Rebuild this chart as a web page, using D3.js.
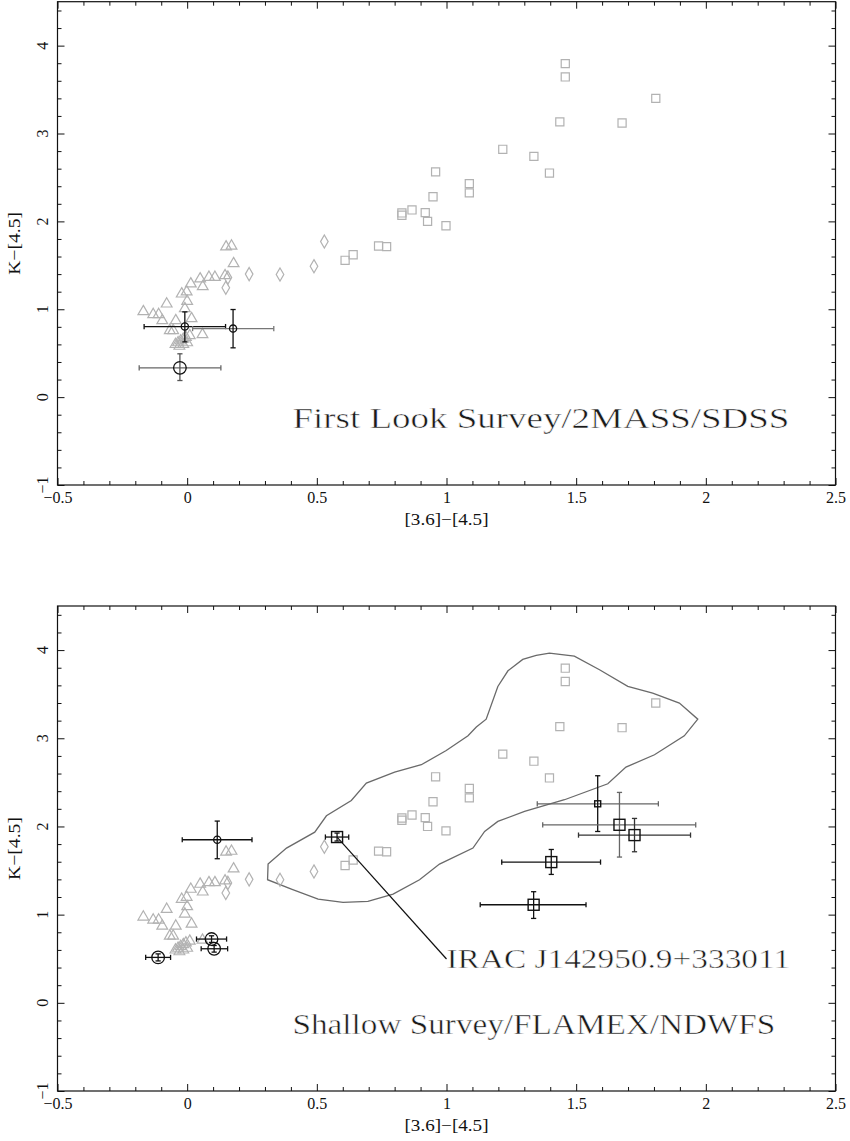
<!DOCTYPE html>
<html><head><meta charset="utf-8">
<script src="https://cdn.jsdelivr.net/npm/d3@7"></script>
<style>body{margin:0;background:#fff}</style>
</head><body>
<svg id="c" width="850" height="1141" xmlns="http://www.w3.org/2000/svg"></svg>
<script>
// ---------- DATA ----------
const xMajorTicks = [-0.5, 0, 0.5, 1, 1.5, 2, 2.5];
const yMajorTicks = [-1, 0, 1, 2, 3, 4];
const xTitle = "[3.6]\u2212[4.5]";
const yTitle = "K\u2212[4.5]";
const panelLabels = ["First Look Survey/2MASS/SDSS", "Shallow Survey/FLAMEX/NDWFS"];

// grey comparison stars (same in both panels)
const triX = [0.150,0.171,0.179,0.050,0.084,0.107,0.146,0.060,0.014,-0.002,-0.021,0.000,-0.079,-0.169,-0.131,-0.110,-0.009,-0.096,-0.044,0.017,-0.067,-0.054,0.059,-0.045,-0.035,-0.025,-0.015,-0.030,-0.015,0.000,-0.005,0.010];
const triY = [1.71,1.72,1.52,1.346,1.364,1.364,1.383,1.258,1.289,1.198,1.175,1.091,1.061,0.974,0.94,0.94,1.008,0.871,0.871,0.894,0.758,0.758,0.712,0.60,0.62,0.64,0.66,0.58,0.60,0.62,0.68,0.70];
const diaX = [0.529,0.489,0.358,0.239,0.157,0.149];
const diaY = [1.77,1.49,1.395,1.40,1.36,1.245];
const sqX = [1.458,1.458,1.807,1.437,1.677,1.217,1.337,1.397,0.958,1.088,1.088,0.948,0.828,0.828,0.867,0.918,0.927,0.998,0.738,0.769,0.640,0.609];
const sqY = [3.795,3.644,3.40,3.132,3.12,2.82,2.74,2.55,2.563,2.43,2.324,2.28,2.096,2.07,2.13,2.10,2.00,1.95,1.72,1.713,1.62,1.557];

// top panel black points (circles)
const flsX   = [-0.009, 0.177, -0.028];
const flsY   = [0.803, 0.780, 0.333];
const flsXlo = [-0.166, 0.021, -0.185];
const flsXhi = [0.148, 0.334, 0.130];
const flsYlo = [0.629, 0.561, 0.189];
const flsYhi = [0.970, 0.997, 0.493];
const flsKind = ["circle-s","circle-s","circle-l"];

// bottom panel black points
const ssX   = [0.116, 0.094, 0.104, -0.112, 0.578, 1.583, 1.667, 1.725, 1.404, 1.336];
const ssY   = [1.849, 0.723, 0.613, 0.515, 1.880, 2.257, 2.019, 1.902, 1.596, 1.112];
const ssXlo = [-0.019, 0.036, 0.054, -0.160, 0.533, 1.350, 1.371, 1.509, 1.213, 1.130];
const ssXhi = [0.250, 0.152, 0.156, -0.064, 0.623, 1.817, 1.961, 1.941, 1.594, 1.538];
const ssYlo = [1.634, 0.685, 0.575, 0.475, 1.835, 1.943, 1.653, 1.713, 1.456, 0.957];
const ssYhi = [2.061, 0.760, 0.650, 0.555, 1.925, 2.575, 2.386, 2.091, 1.739, 1.260];
const ssKind = ["circle-s","circle-l","circle-l","circle-l","square-l","square-s","square-l","square-l","square-l","square-l"];

// contour (bottom panel)
const contourX = [0.312,0.383,0.492,0.537,0.633,0.691,0.800,0.903,0.999,1.083,1.115,1.153,1.198,1.237,1.294,1.346,1.397,1.493,1.590,1.699,1.795,1.898,1.969,1.917,1.802,1.692,1.622,1.455,1.301,1.198,1.147,1.102,0.973,0.896,0.794,0.697,0.601,0.505,0.402,0.310];
const contourY = [1.573,1.755,1.935,2.121,2.295,2.492,2.616,2.700,2.862,3.028,3.127,3.217,3.588,3.765,3.894,3.939,3.966,3.932,3.777,3.588,3.512,3.399,3.217,3.028,2.813,2.673,2.484,2.303,2.170,2.057,1.944,1.755,1.573,1.396,1.233,1.150,1.139,1.177,1.290,1.396];

// annotation
const iracLabel = "IRAC J142950.9+333011";
const leaderX = [0.578, 1.0];
const leaderY = [1.880, 0.497];
const iracLabelPos = [1.0, 0.40];
const iracLabelEnd = 2.325;
const panelLabelPos = [0.406, -0.357];
const panelLabelEnd = 2.322;

// ---------- STYLE / LAYOUT ----------
const svg = d3.select("#c");
const left = 57.5, right = 835.5;
const grey = "#b2b2b2";
const errStyleTop = [["#111","#111"],["#777","#111"],["#666","#555"]]; // [xbar,ybar]
const errStyleBot = [["#111","#111"],["#111","#111"],["#111","#111"],["#111","#111"],["#111","#111"],["#666","#111"],["#666","#666"],["#333","#333"],["#111","#111"],["#111","#111"]];
const fmt = d => (d < 0 ? "\u2212" + Math.abs(d) : String(d));
const serif = "Liberation Serif, DejaVu Serif, serif";

const panels = [
  {top: 1.7, bottom: 485, label: panelLabels[0],
   pts: {x: flsX, y: flsY, xlo: flsXlo, xhi: flsXhi, ylo: flsYlo, yhi: flsYhi, kind: flsKind, col: errStyleTop}},
  {top: 606, bottom: 1091, label: panelLabels[1], contour: true,
   pts: {x: ssX, y: ssY, xlo: ssXlo, xhi: ssXhi, ylo: ssYlo, yhi: ssYhi, kind: ssKind, col: errStyleBot}}
];

const xMinor = d3.range(-5, 26).map(i => i / 10).filter(v => !xMajorTicks.some(m => Math.abs(m - v) < 1e-9));
const yMinor = d3.range(-5, 23).map(i => i / 5).filter(v => !yMajorTicks.some(m => Math.abs(m - v) < 1e-9));

panels.forEach((P, pi) => {
  const x = d3.scaleLinear().domain([-0.5, 2.5]).range([left, right]);
  const y = d3.scaleLinear().domain([-1, 4.5]).range([P.bottom, P.top]);
  const g = svg.append("g");

  if (P.contour) {
    g.append("path")
      .datum(contourX.map((v, i) => [v, contourY[i]]))
      .attr("d", d3.line().x(d => x(d[0])).y(d => y(d[1])).curve(d3.curveLinearClosed))
      .attr("fill", "none").attr("stroke", "#6a6a6a").attr("stroke-width", 1.3);
  }

  const gm = g.append("g").attr("fill", "none").attr("stroke", grey).attr("stroke-width", 1.2);
  const tri = d3.symbol(d3.symbolTriangle, 50);
  const sq = d3.symbol(d3.symbolSquare, 66);
  const dia = d3.symbol(d3.symbolDiamond, 50);
  gm.selectAll(".tri").data(triX.map((v, i) => [v, triY[i]])).join("path")
    .attr("class", "tri")
    .attr("transform", d => `translate(${x(d[0])},${y(d[1])})`).attr("d", tri);
  gm.selectAll(".dia").data(diaX.map((v, i) => [v, diaY[i]])).join("path")
    .attr("class", "dia")
    .attr("transform", d => `translate(${x(d[0])},${y(d[1])})`).attr("d", dia);
  gm.selectAll(".sq").data(sqX.map((v, i) => [v, sqY[i]])).join("path")
    .attr("class", "sq")
    .attr("transform", d => `translate(${x(d[0])},${y(d[1])})`).attr("d", sq);

  if (P.contour) {
    g.append("line")
      .attr("x1", x(leaderX[0])).attr("y1", y(leaderY[0]))
      .attr("x2", x(leaderX[1])).attr("y2", y(leaderY[1]))
      .attr("stroke", "#111").attr("stroke-width", 1.2);
    g.append("text").attr("x", x(iracLabelPos[0])).attr("y", y(iracLabelPos[1]))
      .attr("font-family", serif).attr("font-size", 27).attr("fill", "#1a1a1a")
      .attr("stroke", "#fff").attr("stroke-width", 0.5)
      .attr("textLength", x(iracLabelEnd) - x(iracLabelPos[0])).attr("lengthAdjust", "spacingAndGlyphs")
      .text(iracLabel);
  }

  const p = P.pts;
  const cap = 2.6;
  p.x.forEach((xv, i) => {
    const cx = x(xv), cy = y(p.y[i]);
    const eg = g.append("g").attr("fill", "none").attr("stroke-width", 1.3);
    const xc = p.col[i][0], yc = p.col[i][1];
    const x1 = x(p.xlo[i]), x2 = x(p.xhi[i]), y1 = y(p.ylo[i]), y2 = y(p.yhi[i]);
    eg.append("line").attr("x1", x1).attr("x2", x2).attr("y1", cy).attr("y2", cy).attr("stroke", xc);
    eg.append("line").attr("x1", x1).attr("x2", x1).attr("y1", cy - cap).attr("y2", cy + cap).attr("stroke", xc);
    eg.append("line").attr("x1", x2).attr("x2", x2).attr("y1", cy - cap).attr("y2", cy + cap).attr("stroke", xc);
    eg.append("line").attr("x1", cx).attr("x2", cx).attr("y1", y1).attr("y2", y2).attr("stroke", yc);
    eg.append("line").attr("x1", cx - cap).attr("x2", cx + cap).attr("y1", y1).attr("y2", y1).attr("stroke", yc);
    eg.append("line").attr("x1", cx - cap).attr("x2", cx + cap).attr("y1", y2).attr("y2", y2).attr("stroke", yc);
    const k = p.kind[i];
    if (k.startsWith("circle")) {
      eg.append("circle").attr("cx", cx).attr("cy", cy).attr("r", k === "circle-s" ? 3.6 : 6.3)
        .attr("stroke", "#111").attr("stroke-width", 1.3);
    } else {
      const s = k === "square-s" ? 6 : 11;
      eg.append("rect").attr("x", cx - s / 2).attr("y", cy - s / 2).attr("width", s).attr("height", s)
        .attr("stroke", "#111").attr("stroke-width", 1.4);
    }
  });

  g.append("text").attr("x", x(panelLabelPos[0])).attr("y", y(panelLabelPos[1]))
    .attr("font-family", serif).attr("font-size", 29).attr("fill", "#1a1a1a")
    .attr("stroke", "#fff").attr("stroke-width", 0.5)
    .attr("textLength", x(panelLabelEnd) - x(panelLabelPos[0]) - (pi === 1 ? 14 : 0)).attr("lengthAdjust", "spacingAndGlyphs")
    .text(P.label);

  const styleAxis = sel => {
    sel.select(".domain").remove();
    sel.selectAll("line").attr("stroke", "#111").attr("stroke-width", 1);
    sel.selectAll("text").attr("font-family", serif).attr("font-size", 16).attr("fill", "#111");
  };
  g.append("g").attr("transform", `translate(0,${P.bottom})`)
    .call(d3.axisBottom(x).tickValues(xMajorTicks).tickSizeInner(-7).tickSizeOuter(0).tickPadding(7).tickFormat(fmt)).call(styleAxis);
  g.append("g").attr("transform", `translate(0,${P.bottom})`)
    .call(d3.axisBottom(x).tickValues(xMinor).tickSize(-4).tickFormat("")).call(styleAxis);
  g.append("g").attr("transform", `translate(0,${P.top})`)
    .call(d3.axisTop(x).tickValues(xMajorTicks).tickSize(-7).tickFormat("")).call(styleAxis);
  g.append("g").attr("transform", `translate(0,${P.top})`)
    .call(d3.axisTop(x).tickValues(xMinor).tickSize(-4).tickFormat("")).call(styleAxis);
  g.append("g").attr("transform", `translate(${left},0)`)
    .call(d3.axisLeft(y).tickValues(yMajorTicks).tickSize(-7).tickFormat("")).call(styleAxis);
  g.append("g").attr("transform", `translate(${left},0)`)
    .call(d3.axisLeft(y).tickValues(yMinor).tickSize(-4).tickFormat("")).call(styleAxis);
  g.append("g").attr("transform", `translate(${right},0)`)
    .call(d3.axisRight(y).tickValues(yMajorTicks).tickSize(-7).tickFormat("")).call(styleAxis);
  g.append("g").attr("transform", `translate(${right},0)`)
    .call(d3.axisRight(y).tickValues(yMinor).tickSize(-4).tickFormat("")).call(styleAxis);

  g.selectAll(".ylab").data(yMajorTicks).join("text")
    .attr("class", "ylab")
    .attr("transform", d => `translate(48,${y(d)}) rotate(-90)`)
    .attr("text-anchor", "middle")
    .attr("font-family", serif).attr("font-size", 16).attr("fill", "#111")
    .text(fmt);

  g.append("rect").attr("x", left).attr("y", P.top).attr("width", right - left).attr("height", P.bottom - P.top)
    .attr("fill", "none").attr("stroke", "#111").attr("stroke-width", 1.2);

  g.append("text").attr("x", (left + right) / 2).attr("y", P.bottom + 40)
    .attr("text-anchor", "middle").attr("font-family", serif).attr("font-size", 17)
    .attr("textLength", 84).attr("lengthAdjust", "spacingAndGlyphs").attr("fill", "#111")
    .text(xTitle);
  g.append("text").attr("transform", `translate(20,${(P.top + P.bottom) / 2}) rotate(-90)`)
    .attr("text-anchor", "middle").attr("font-family", serif).attr("font-size", 17)
    .attr("textLength", 63).attr("lengthAdjust", "spacingAndGlyphs").attr("fill", "#111")
    .text(yTitle);
});
</script>
</body></html>
